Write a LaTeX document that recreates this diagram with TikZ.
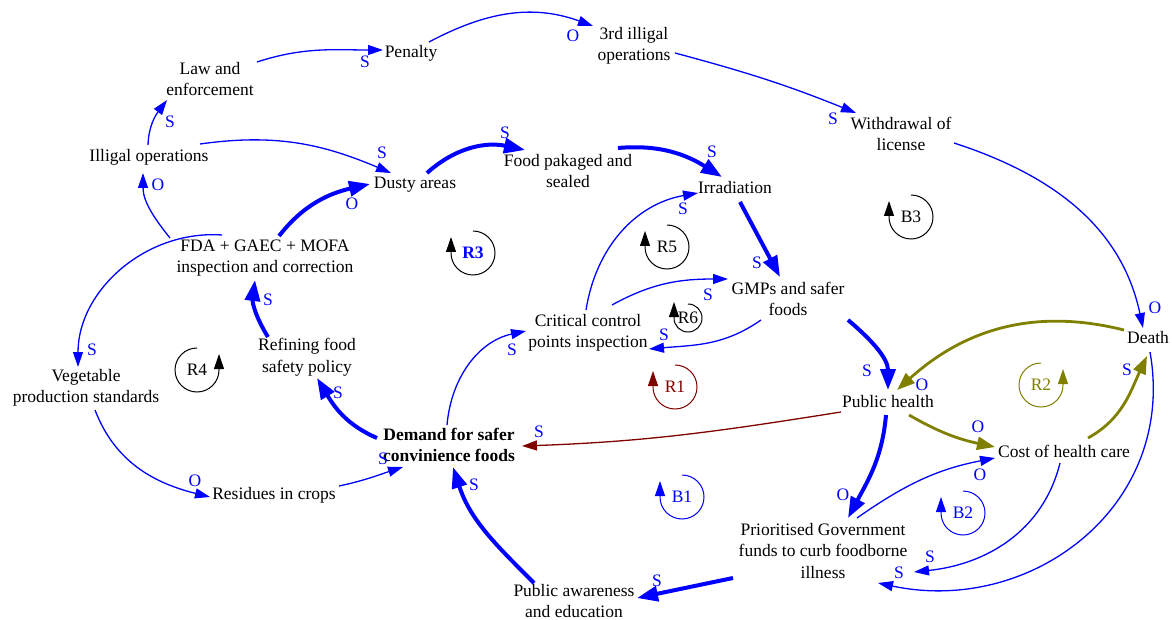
\documentclass[tikz,border=0pt]{standalone}
\usepackage{fontspec}
\setmainfont{Liberation Serif}
\usetikzlibrary{arrows.meta,calc}
\definecolor{cblue}{RGB}{0,0,255}
\definecolor{colive}{RGB}{128,128,0}
\definecolor{cred}{RGB}{128,0,0}
\begin{document}
\begin{tikzpicture}[x=1pt,y=1pt,
  var/.style={font=\fontsize{17.5}{21.5}\selectfont, align=center, inner sep=0pt, text=black},
  pol/.style={font=\fontsize{17.5}{20}\selectfont, text=cblue, inner sep=0pt},
  looplbl/.style={font=\fontsize{17.5}{20}\selectfont, inner sep=0pt},
  lnk/.style={draw=cblue, line width=1.3pt, -{Triangle[length=15pt,width=10pt]}},
  lnkb/.style={draw=cblue, line width=4pt, -{Triangle[length=21pt,width=15pt]}},
  lnko/.style={draw=colive, line width=2.8pt, -{Triangle[length=18pt,width=13pt]}},
  lnkr/.style={draw=cred, line width=1.3pt, -{Triangle[length=15pt,width=10pt]}},
  loopc/.style={line width=1pt, -{Triangle[length=15pt,width=10pt]}}
]
\useasboundingbox (0,0) rectangle (1172,-620);

% variables
\node[var] (law) at (210,-79) {Law and\\enforcement};
\node[var] (pen) at (411,-53) {Penalty};
\node[var] (third) at (634,-46) {3rd illigal\\operations};
\node[var] (wd) at (901,-134) {Withdrawal of\\license};
\node[var] (illig) at (149,-157) {Illigal operations};
\node[var] (dusty) at (415,-185) {Dusty areas};
\node[var] (food) at (568,-171) {Food pakaged and\\sealed};
\node[var] (irr) at (735,-188) {Irradiation};
\node[var] (fda) at (265,-258) {FDA + GAEC + MOFA\\inspection and correction};
\node[var] (gmp) at (788,-299) {GMPs and safer\\foods};
\node[var] (ccp) at (588,-333) {Critical control\\points inspection};
\node[var] (death) at (1148,-338) {Death};
\node[var] (ph) at (888,-402) {Public health};
\node[var] (cost) at (1064,-451) {Cost of health care};
\node[var] (prio) at (823,-551) {Prioritised Government\\funds to curb foodborne\\illness};
\node[var] (aware) at (574,-601) {Public awareness\\and education};
\node[var, font=\fontsize{17.5}{21.5}\selectfont\bfseries] (demand) at (449,-445) {Demand for safer\\convinience foods};
\node[var] (resid) at (274,-495) {Residues in crops};
\node[var] (veg) at (86,-388) {Vegetable\\production standards};
\node[var] (refine) at (307,-357) {Refining food\\safety policy};

% connectors
\draw[lnk] ($(law)+(47,17)$) to[out=18,in=180] ($(pen)+(-28,3)$);
\draw[lnk] ($(pen)+(18,11)$) to[out=28,in=160] ($(third)+(-41,20)$);
\draw[lnk] ($(third)+(41,-7)$) to[out=-15,in=158] ($(wd)+(-45,21)$);
\draw[lnk] ($(wd)+(53,-9)$) to[out=-18,in=102] ($(death)+(-5,10)$);
\draw[lnk] ($(illig)+(-1,12)$) to[out=88,in=233] ($(law)+(-43,-21)$);
\draw[lnk] ($(illig)+(51,13)$) to[out=8,in=157] ($(dusty)+(-24,12)$);
\draw[lnk] ($(fda)+(-95,20)$) to[out=129,in=270] ($(illig)+(-6,-16)$);
\draw[lnkb] ($(fda)+(14,22)$) to[out=52,in=193] ($(dusty)+(-45,1)$);
\draw[lnk] ($(fda)+(-43,23)$) to[out=176,in=90] ($(veg)+(-8,21)$);
\draw[lnkb] ($(dusty)+(12,12)$) to[out=42,in=168] ($(food)+(-43,21)$);
\draw[lnkb] ($(food)+(50,23)$) to[out=5,in=148] ($(irr)+(-13,11)$);
\draw[lnkb] ($(irr)+(5,-14)$) -- ($(gmp)+(-8,22)$);
\draw[lnk] ($(ccp)+(-2,23)$) to[out=81,in=190] ($(irr)+(-37,-5)$);
\draw[lnk] ($(ccp)+(24,28)$) to[out=29,in=180] ($(gmp)+(-60,20)$);
\draw[lnk] ($(gmp)+(-27,-21)$) to[out=215,in=5] ($(ccp)+(61,-16)$);
\draw[lnkb] ($(gmp)+(60,-21)$) to[out=-40,in=90] ($(ph)+(0,12)$);
\draw[lnko] ($(death)+(-24,8)$) to[out=166,in=42] ($(ph)+(9,12)$);
\draw[lnko] ($(ph)+(21,-13)$) to[out=-30,in=168] ($(cost)+(-69,4)$);
\draw[lnko] ($(cost)+(24,13)$) to[out=29,in=245] ($(death)+(-1,-18)$);
\draw[lnkr] ($(ph)+(-47,-10)$) to[out=189,in=2] ($(demand)+(73,-1)$);
\draw[lnkb] ($(ph)+(-2,-13)$) to[out=265,in=62] ($(prio)+(25,33)$);
\draw[lnk] ($(prio)+(34,33)$) to[out=35,in=191] ($(cost)+(-69,-7)$);
\draw[lnk] ($(cost)+(-4,-12)$) to[out=256,in=6] ($(prio)+(91,-21)$);
\draw[lnk] ($(death)+(2,-14)$) to[out=-80,in=-12,looseness=1.12] ($(prio)+(55,-32)$);
\draw[lnkb] ($(prio)+(-90,-27)$) -- ($(aware)+(63,3)$);
\draw[lnkb] ($(aware)+(-40,18)$) to[out=135,in=-72] ($(demand)+(4,-22)$);
\draw[lnk] ($(demand)+(-2,20)$) to[out=85,in=192] ($(ccp)+(-62,2)$);
\draw[lnkb] ($(demand)+(-72,7)$) to[out=157,in=-59] ($(refine)+(10,-21)$);
\draw[lnkb] ($(refine)+(-39,20)$) to[out=122,in=263] ($(fda)+(-10,-22)$);
\draw[lnk] ($(veg)+(9,-22)$) to[out=-69,in=166] ($(resid)+(-64,-2)$);
\draw[lnk] ($(resid)+(65,9)$) to[out=12,in=198] ($(demand)+(-46,-22)$);

% polarity labels
\node[pol] (p1) at (365,-62) {S};
\node[pol] (p2) at (573,-36) {O};
\node[pol] (p3) at (833,-119) {S};
\node[pol] (p4) at (1155,-308) {O};
\node[pol] (p5) at (170,-122) {S};
\node[pol] (p6) at (382,-153) {S};
\node[pol] (p7) at (158,-185) {O};
\node[pol] (p8) at (352,-204) {O};
\node[pol] (p9) at (92,-350) {S};
\node[pol] (p10) at (505,-133) {S};
\node[pol] (p11) at (712,-152) {S};
\node[pol] (p12) at (757,-263) {S};
\node[pol] (p13) at (683,-209) {S};
\node[pol] (p14) at (708,-295) {S};
\node[pol] (p15) at (664,-335) {S};
\node[pol] (p16) at (867,-371) {S};
\node[pol] (p17) at (922,-385) {O};
\node[pol] (p18) at (978,-427) {O};
\node[pol] (p19) at (1127,-370) {S};
\node[pol] (p20) at (539,-432) {S};
\node[pol] (p21) at (843,-495) {O};
\node[pol] (p22) at (980,-475) {O};
\node[pol] (p23) at (930,-557) {S};
\node[pol] (p24) at (899,-573) {S};
\node[pol] (p25) at (657,-581) {S};
\node[pol] (p26) at (474,-485) {S};
\node[pol] (p27) at (512,-350) {S};
\node[pol] (p28) at (338,-393) {S};
\node[pol] (p29) at (268,-300) {S};
\node[pol] (p30) at (195,-481) {O};
\node[pol] (p31) at (383,-459) {S};

% loop markers
\node[looplbl, text=cblue, font=\fontsize{17.5}{20}\selectfont\bfseries] (r3) at (473,-253) {R3};
\draw[loopc, black] ($(r3)+(0,22)$) arc[start angle=90, end angle=-180, radius=22] -- ++(0,16);
\node[looplbl] (r5) at (667,-247) {R5};
\draw[loopc, black] ($(r5)+(0,22)$) arc[start angle=90, end angle=-180, radius=22] -- ++(0,16);
\node[looplbl] (r6) at (688,-318) {R6};
\draw[loopc, black] ($(r6)+(0,14)$) arc[start angle=90, end angle=-180, radius=14] -- ++(0,16);
\node[looplbl, text=cred] (r1) at (675,-387) {R1};
\draw[loopc, cred] ($(r1)+(0,22)$) arc[start angle=90, end angle=-180, radius=22] -- ++(0,16);
\node[looplbl] (b3) at (911,-217) {B3};
\draw[loopc, black] ($(b3)+(0,22)$) arc[start angle=90, end angle=-180, radius=22] -- ++(0,16);
\node[looplbl, text=cblue] (b1) at (682,-497) {B1};
\draw[loopc, cblue] ($(b1)+(0,22)$) arc[start angle=90, end angle=-180, radius=22] -- ++(0,16);
\node[looplbl, text=cblue] (b2) at (963,-513) {B2};
\draw[loopc, cblue] ($(b2)+(0,22)$) arc[start angle=90, end angle=-180, radius=22] -- ++(0,16);
\node[looplbl] (r4) at (197,-370) {R4};
\draw[loopc, black] ($(r4)+(0,22)$) arc[start angle=90, end angle=360, radius=22] -- ++(0,16);
\node[looplbl, text=colive] (r2) at (1041,-385) {R2};
\draw[loopc, colive] ($(r2)+(0,22)$) arc[start angle=90, end angle=360, radius=22] -- ++(0,16);
\end{tikzpicture}
\end{document}
